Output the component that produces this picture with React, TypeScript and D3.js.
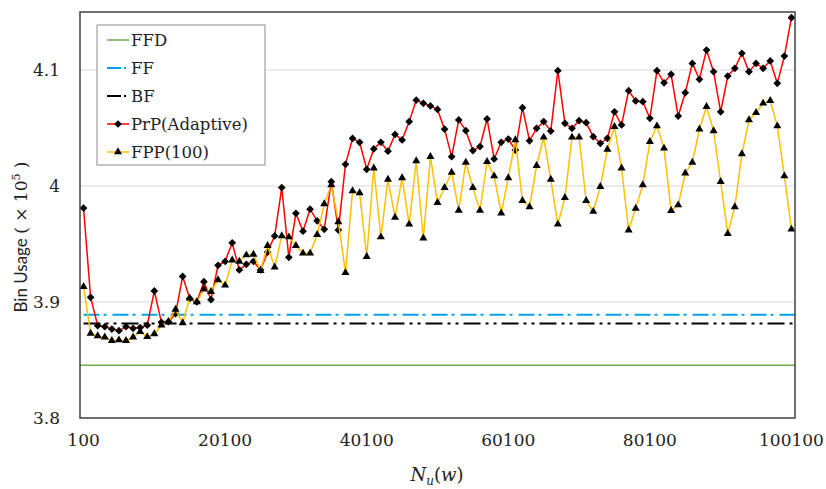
import React from "react";
import * as d3 from "d3";

// x categories: 100, 1100, ... 100100
const categories = d3.range(0, 101).map((i) => 100 + i * 1000);
const xTickLabels = [100, 20100, 40100, 60100, 80100, 100100];
const yTicks = [3.8, 3.9, 4.0, 4.1];
const yTickLabels = ["3.8", "3.9", "4", "4.1"];

const ffd = 3.8455;
const ff = 3.889;
const bf = 3.8815;

const prp = [
  3.981, 3.904, 3.8796, 3.8787, 3.8767, 3.8753, 3.8787, 3.8773, 3.878, 3.88,
  3.9095, 3.8825, 3.883, 3.89, 3.922, 3.903, 3.9, 3.9175, 3.902, 3.9316,
  3.935, 3.951, 3.9276, 3.9325, 3.935, 3.9276, 3.943, 3.957, 3.9986, 3.9385,
  3.9765, 3.961, 3.98, 3.97, 3.9627, 4.0037, 3.962, 4.0187, 4.041, 4.0377,
  4.0144, 4.032, 4.0377, 4.03, 4.0445, 4.0397, 4.0555, 4.074, 4.0713, 4.069,
  4.066, 4.049, 4.0253, 4.057, 4.0477, 4.0305, 4.034, 4.0578, 4.0233, 4.0377,
  4.0405, 4.031, 4.0675, 4.039, 4.0497, 4.0555, 4.0474, 4.0994, 4.054, 4.0497,
  4.0563, 4.0546, 4.0425, 4.0368, 4.0411, 4.064, 4.0526, 4.0822, 4.0733, 4.0727,
  4.0584, 4.0994, 4.089, 4.0963, 4.0603, 4.0804, 4.1057, 4.092, 4.1172, 4.0985,
  4.064, 4.0948, 4.1015, 4.1144, 4.0985, 4.1057, 4.1015, 4.1078, 4.0885, 4.112,
  4.1451,
];

const fpp = [
  3.9132, 3.873, 3.8707, 3.8696, 3.8667, 3.8672, 3.8667, 3.8696, 3.8744, 3.87,
  3.8724, 3.88, 3.883, 3.8937, 3.882, 3.9034, 3.9, 3.911, 3.909, 3.919,
  3.9144, 3.936, 3.935, 3.9405, 3.941, 3.927, 3.9486, 3.93, 3.957, 3.956,
  3.9486, 3.942, 3.942, 3.958, 3.9845, 4.001, 3.969, 3.9253, 3.9957, 3.994,
  3.939, 4.0153, 3.956, 4.0057, 3.973, 4.007, 3.967, 4.0216, 3.955, 4.0253,
  3.9856, 3.9985, 4.0118, 3.979, 4.0204, 3.9985, 3.979, 4.021, 4.0086, 3.9765,
  4.007, 4.0397, 3.9873, 3.982, 4.0175, 4.042, 4.0057, 3.967, 3.99, 4.042,
  4.042, 3.9873, 3.978, 3.9994, 4.0316, 4.0511, 4.0153, 3.962, 3.9807, 4.0009,
  4.0382, 4.0517, 4.0325, 3.9787, 3.9836, 4.011, 4.0204, 4.049, 4.0684, 4.0474,
  4.0037, 3.959, 3.982, 4.0276, 4.0569, 4.0632, 4.0713, 4.0736, 4.0517, 4.0086,
  3.9627,
];

const W = 826;
const H = 489;
const plot = { left: 80, right: 795, top: 12, bottom: 418 };

const serif = "'DejaVu Serif', serif";

const ffDash = "16 4 3 6";
const bfDash = "17 5 3 5 3 5";

export default function App() {
  const x = d3
    .scalePoint<number>()
    .domain(categories)
    .range([plot.left, plot.right])
    .padding(0.5);
  const y = d3.scaleLinear().domain([3.8, 4.15]).range([plot.bottom, plot.top]);

  const line = d3
    .line<number>()
    .x((_, i) => x(categories[i])!)
    .y((d) => y(d));

  const diamond = d3.symbol(d3.symbolSquare, 30)();
  const triangle = d3.symbol(d3.symbolTriangle, 28)();

  const legendItems = [
    { label: "FFD", color: "#70ad47", dash: undefined, width: 1.5, marker: null },
    { label: "FF", color: "#00a2ed", dash: ffDash, width: 2, marker: null },
    { label: "BF", color: "#000000", dash: bfDash, width: 2, marker: null },
    { label: "PrP(Adaptive)", color: "#ff0000", dash: undefined, width: 1.5, marker: "diamond" },
    { label: "FPP(100)", color: "#ffc000", dash: undefined, width: 1.5, marker: "triangle" },
  ];

  return (
    <svg
      width={W}
      height={H}
      style={{ position: "absolute", left: 0, top: 0, background: "#fff" }}
    >
      {/* gridlines */}
      {yTicks.slice(1).map((t) => (
        <line
          key={t}
          x1={plot.left}
          x2={plot.right}
          y1={y(t)}
          y2={y(t)}
          stroke="#d9d9d9"
          strokeWidth={1}
        />
      ))}

      {/* horizontal reference lines */}
      <line x1={plot.left} x2={plot.right} y1={y(ffd)} y2={y(ffd)} stroke="#70ad47" strokeWidth={1.5} />
      <line
        x1={x(categories[0])}
        x2={plot.right}
        y1={y(ff)}
        y2={y(ff)}
        stroke="#00a2ed"
        strokeWidth={2}
        strokeDasharray={ffDash}
      />
      <line
        x1={x(categories[0])}
        x2={plot.right}
        y1={y(bf)}
        y2={y(bf)}
        stroke="#000"
        strokeWidth={2}
        strokeDasharray={bfDash}
      />

      {/* PrP */}
      <path d={line(prp) ?? ""} fill="none" stroke="#ff0000" strokeWidth={1.5} />
      {prp.map((d, i) => (
        <path
          key={"p" + i}
          d={diamond ?? ""}
          transform={`translate(${x(categories[i])},${y(d)}) rotate(45)`}
          fill="#000"
        />
      ))}

      {/* FPP */}
      <path d={line(fpp) ?? ""} fill="none" stroke="#ffc000" strokeWidth={1.5} />
      {fpp.map((d, i) => (
        <path
          key={"f" + i}
          d={triangle ?? ""}
          transform={`translate(${x(categories[i])},${y(d)})`}
          fill="#000"
        />
      ))}

      {/* frame */}
      <rect
        x={plot.left}
        y={plot.top}
        width={plot.right - plot.left}
        height={plot.bottom - plot.top}
        fill="none"
        stroke="#404040"
        strokeWidth={1.5}
      />

      {/* y tick labels */}
      {yTicks.map((t, i) => (
        <text
          key={t}
          x={60}
          y={y(t)}
          dy="0.35em"
          textAnchor="end"
          fontFamily={serif}
          fontSize={17}
          fill="#222"
        >
          {yTickLabels[i]}
        </text>
      ))}

      {/* x tick labels */}
      {xTickLabels.map((t) => (
        <text
          key={t}
          x={x(t)}
          y={446}
          textAnchor="middle"
          fontFamily={serif}
          fontSize={17}
          fill="#222"
        >
          {t}
        </text>
      ))}

      {/* axis titles */}
      <text
        transform="translate(27,237) rotate(-90)"
        textAnchor="middle"
        fontSize={17}
        fill="#222"
      >
        <tspan fontFamily="Lato, sans-serif">Bin Usage </tspan>
        <tspan fontFamily={serif}>( × 10</tspan>
        <tspan fontFamily={serif} fontSize={11} dy={-7}>5</tspan>
        <tspan fontFamily={serif} dy={7}> )</tspan>
      </text>
      <text x={437} y={481} textAnchor="middle" fontFamily={serif} fontSize={18} fill="#222">
        <tspan fontStyle="italic">N</tspan>
        <tspan fontStyle="italic" fontSize={12} dy={4}>u</tspan>
        <tspan dy={-4}>(</tspan>
        <tspan fontStyle="italic">w</tspan>
        <tspan>)</tspan>
      </text>

      {/* legend */}
      <rect x={97} y={25} width={168} height={140} fill="#fff" stroke="#8c8c8c" strokeWidth={1} />
      {legendItems.map((item, i) => {
        const cy = 40 + i * 28;
        return (
          <g key={item.label}>
            <line
              x1={107}
              x2={129}
              y1={cy}
              y2={cy}
              stroke={item.color}
              strokeWidth={item.width}
              strokeDasharray={item.dash ? "14 3 2 4" : undefined}
            />
            {item.marker === "diamond" && (
              <path d={diamond ?? ""} transform={`translate(118,${cy}) rotate(45)`} fill="#000" />
            )}
            {item.marker === "triangle" && (
              <path d={triangle ?? ""} transform={`translate(118,${cy})`} fill="#000" />
            )}
            <text x={131} y={cy} dy="0.35em" fontFamily={serif} fontSize={16.5} fill="#222">
              {item.label}
            </text>
          </g>
        );
      })}
    </svg>
  );
}
